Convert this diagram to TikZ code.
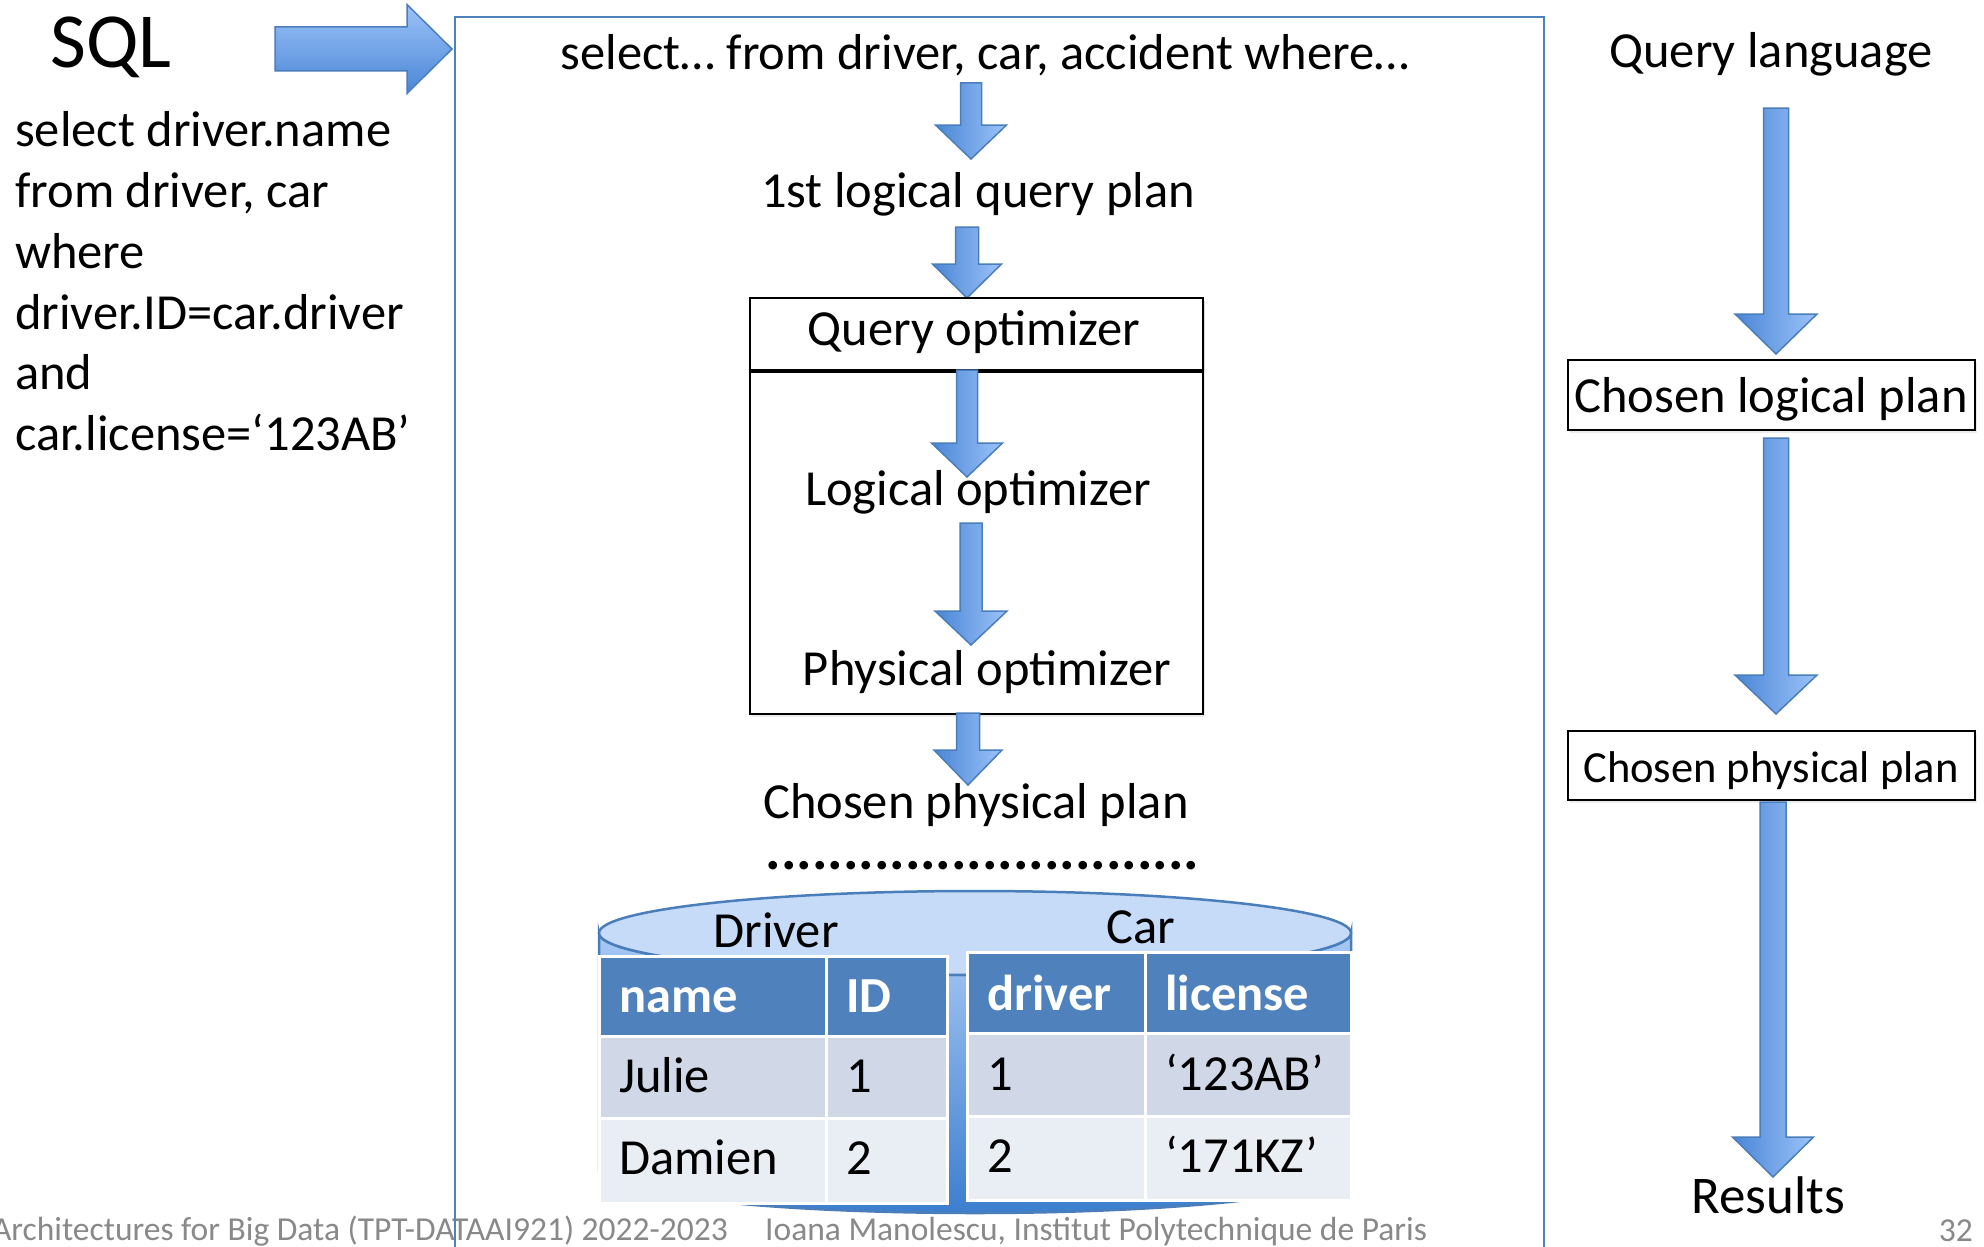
\documentclass[tikz,border=0pt]{standalone}
\usepackage{fontspec}
\setmainfont{Carlito}
\usetikzlibrary{calc,shadows}

\definecolor{hdrblue}{HTML}{4F81BD}
\definecolor{rowa}{HTML}{D0D8E8}
\definecolor{rowb}{HTML}{E9EDF4}
\definecolor{frameblue}{HTML}{4F81BD}
\definecolor{arrowdark}{HTML}{4A86D6}
\definecolor{arrowlight}{HTML}{9CC3F9}
\definecolor{arrowedge}{HTML}{4A7EBB}
\definecolor{cyltop}{HTML}{C6DBF8}
\definecolor{cylhi}{HTML}{A8C9F5}
\definecolor{cyllo}{HTML}{3C7ECF}
\definecolor{footgray}{HTML}{898989}

\newcommand{\fs}[1]{\fontsize{#1}{#1}\selectfont}

\tikzset{
  txt/.style={inner sep=0pt, anchor=base, font=\fs{50.5}},
  blockarrow/.style={left color=arrowdark, right color=arrowlight, draw=arrowedge, line width=1.5pt, line join=miter},
  plainbox/.style={draw=black, line width=2pt, fill=white, inner sep=0pt,
    drop shadow={shadow xshift=2pt, shadow yshift=-3pt, opacity=0.15}},
  cellbox/.style={draw=white, line width=3pt, inner sep=0pt, anchor=north west},
  foot/.style={inner sep=0pt, font=\fs{33.5}, text=footgray},
}

% vertical block arrow: start coordinate, tip coordinate, shaft half-width, head half-width, head length
\newcommand{\blockdown}[5]{%
  \path[blockarrow] ($(#1)+(-#3,0)$) -- ($(#1)+(#3,0)$) -- ($(#2)+(#3,-#5)$)
    -- ($(#2)+(#4,-#5)$) -- (#2) -- ($(#2)+(-#4,-#5)$) -- ($(#2)+(-#3,-#5)$) -- cycle;}

% table cell: name, x, y, width, height, fill, text baseline, font, text
\newcommand{\tcell}[9]{%
  \node[cellbox, fill=#6, minimum width=#4pt, minimum height=#5pt] (#1) at (#2,#3) {};
  \node[inner sep=0pt, anchor=base west, font=#8] (#1-t) at (#2+21,#7) {#9};}

\begin{document}
\begin{tikzpicture}[x=1pt, y=-1pt]
\clip (0,0) rectangle (1984,1247);
\fill[white] (0,0) rectangle (1984,1247);

% ---------- left column: SQL query ----------
\node[inner sep=0pt, anchor=base west, font=\fs{78}] (sql) at (50,67) {SQL};
\node[inner sep=0pt, anchor=base west, font=\fs{50.5}] (q1) at (15,146) {select driver.name};
\node[inner sep=0pt, anchor=base west, font=\fs{50.5}] (q2) at (15,207) {from driver, car};
\node[inner sep=0pt, anchor=base west, font=\fs{50.5}] (q3) at (15,268) {where};
\node[inner sep=0pt, anchor=base west, font=\fs{50.5}] (q4) at (15,329) {driver.ID=car.driver};
\node[inner sep=0pt, anchor=base west, font=\fs{50.5}] (q5) at (15,389) {and};
\node[inner sep=0pt, anchor=base west, font=\fs{50.5}] (q6) at (15,450) {car.license=‘123AB’};

% arrow into the engine
\coordinate (inS) at (275,49);
\coordinate (inT) at (452,49);
\path[draw=arrowedge, line width=1.5pt, top color=arrowlight, bottom color=arrowdark]
  ($(inS)+(0,-22)$) -- ($(inT)+(-45,-22)$) -- ($(inT)+(-45,-44.5)$) -- (inT)
  -- ($(inT)+(-45,44.5)$) -- ($(inT)+(-45,22)$) -- ($(inS)+(0,22)$) -- cycle;

% ---------- footer ----------
\node[foot, anchor=base east] (footl) at (728,1240) {Architectures for Big Data (TPT-DATAAI921) 2022-2023};
\node[foot, anchor=base west] (footr) at (765,1240) {Ioana Manolescu, Institut Polytechnique de Paris};
\node[foot, anchor=base east] (pageno) at (1973,1241) {32};

% ---------- engine frame ----------
\draw[frameblue, line width=2pt] (455,1300) -- (455,17) -- (1544,17) -- (1544,1300);

\node[txt] (sqltext) at (985,70) {select… from driver, car, accident where…};
\coordinate (a1s) at (971,83);  \coordinate (a1t) at (971,159);
\blockdown{a1s}{a1t}{10.5}{35.5}{34}

\node[txt] (lqp) at (978,207) {1st logical query plan};
\coordinate (a2s) at (967,227); \coordinate (a2t) at (967,298);
\blockdown{a2s}{a2t}{11.5}{34.5}{34}

% query optimizer box
\node[plainbox, anchor=north west, minimum width=453pt, minimum height=416pt] (optbody) at (749,297) {};
\node[plainbox, anchor=north west, minimum width=453pt, minimum height=72pt, drop shadow={opacity=0}] (opthead) at (749,297) {};
\draw[line width=3pt] (opthead.south west) -- (opthead.south east);
\node[txt] (opttitle) at (974,345) {Query optimizer};

\coordinate (a3s) at (967,370); \coordinate (a3t) at (967,477);
\blockdown{a3s}{a3t}{10.5}{35.5}{34}
\node[txt] (logopt) at (978,505) {Logical optimizer};

\coordinate (a4s) at (971,523); \coordinate (a4t) at (971,645);
\blockdown{a4s}{a4t}{11}{36}{34}
\node[txt] (physopt) at (987,685) {Physical optimizer};

\coordinate (a5s) at (968,713); \coordinate (a5t) at (968,785);
\blockdown{a5s}{a5t}{11.5}{34}{35}
\node[txt] (cpp) at (976,818) {Chosen physical plan};

\node[inner sep=0pt, anchor=base, font=\bfseries\fs{58}] (dots) at (982.5,869) {............................};

% ---------- database cylinder ----------
\path[draw=arrowedge, line width=2.5pt, top color=cylhi, bottom color=cyllo]
  (599,933) -- (599,1171) arc[start angle=180, end angle=360, x radius=376pt, y radius=42pt]
  -- (1351,933) arc[start angle=0, end angle=-180, x radius=376pt, y radius=42pt] -- cycle;
\draw[arrowedge, line width=2.5pt, fill=cyltop] (975,933) ellipse[x radius=376pt, y radius=42pt];

\node[txt] (drvlabel) at (776,947) {Driver};
\node[txt] (carlabel) at (1141,943) {Car};

% Driver table
\tcell{d11}{598}{955}{227}{80}{hdrblue}{1012}{\bfseries\fs{50.5}\color{white}}{name}
\tcell{d12}{825}{955}{121}{80}{hdrblue}{1012}{\bfseries\fs{50.5}\color{white}}{ID}
\tcell{d21}{598}{1035}{227}{82}{rowa}{1092}{\fs{50.5}}{Julie}
\tcell{d22}{825}{1035}{121}{82}{rowa}{1092}{\fs{50.5}}{1}
\tcell{d31}{598}{1117}{227}{85}{rowb}{1174}{\fs{50.5}}{Damien}
\tcell{d32}{825}{1117}{121}{85}{rowb}{1174}{\fs{50.5}}{2}

% Car table
\tcell{c11}{966}{951}{178}{81}{hdrblue}{1010}{\bfseries\fs{50.5}\color{white}}{driver}
\tcell{c12}{1144}{951}{206}{81}{hdrblue}{1010}{\bfseries\fs{50.5}\color{white}}{license}
\tcell{c21}{966}{1032}{178}{83}{rowa}{1090}{\fs{50.5}}{1}
\tcell{c22}{1144}{1032}{206}{83}{rowa}{1090}{\fs{50.5}}{‘123AB’}
\tcell{c31}{966}{1115}{178}{84}{rowb}{1172}{\fs{50.5}}{2}
\tcell{c32}{1144}{1115}{206}{84}{rowb}{1172}{\fs{50.5}}{‘171KZ’}

% ---------- right column ----------
\node[txt] (qlang) at (1771,68) {Query language};
\coordinate (r1s) at (1776,108); \coordinate (r1t) at (1776,354);
\blockdown{r1s}{r1t}{12.5}{41}{40}

\node[plainbox, minimum width=407pt, minimum height=70pt] (clp) at (1771.5,395) {};
\node[txt] (clptext) at (1771,412) {Chosen logical plan};

\coordinate (r2s) at (1776,438); \coordinate (r2t) at (1776,714);
\blockdown{r2s}{r2t}{12.5}{41}{39}

\node[plainbox, minimum width=407pt, minimum height=69pt] (cppr) at (1771.5,765.5) {};
\node[txt, font=\fs{44.5}] (cpprtext) at (1771,782) {Chosen physical plan};

\coordinate (r3s) at (1773,802); \coordinate (r3t) at (1773,1177);
\blockdown{r3s}{r3t}{13}{40.5}{40}
\node[txt, font=\fs{53}] (results) at (1768,1213) {Results};

\end{tikzpicture}
\end{document}
